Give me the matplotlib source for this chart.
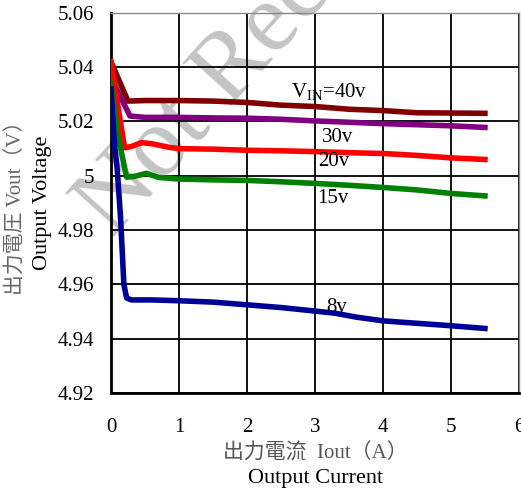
import matplotlib
matplotlib.use("Agg")
import matplotlib.pyplot as plt

plt.rcParams["font.family"] = ["Liberation Serif", "Noto Sans CJK TC", "DejaVu Sans"]
plt.rcParams["mathtext.fontset"] = "custom"
plt.rcParams["mathtext.rm"] = "Liberation Serif"

# output voltage vs output current for each input voltage
x_40v = [0, 0.25, 0.5, 1.0, 1.5, 2.0, 2.5, 3.0, 3.5, 4.0, 4.5, 5.0, 5.5]
y_40v = [5.042, 5.0275, 5.0277, 5.0277, 5.0275, 5.027, 5.026, 5.0255, 5.0245, 5.024, 5.0232, 5.0231, 5.023]

x_30v = [0, 0.28, 0.5, 1.0, 1.5, 2.0, 2.5, 3.0, 3.5, 4.0, 4.5, 5.0, 5.5]
y_30v = [5.036, 5.022, 5.0215, 5.0215, 5.0213, 5.0212, 5.0208, 5.0202, 5.0197, 5.0192, 5.0188, 5.0184, 5.0178]

x_20v = [0, 0.1, 0.2, 0.3, 0.45, 0.6, 0.85, 1.0, 1.5, 2.0, 2.5, 3.0, 3.5, 4.0, 4.5, 5.0, 5.5]
y_20v = [5.042, 5.026, 5.0103, 5.0108, 5.0122, 5.0118, 5.0105, 5.0100, 5.0098, 5.0094, 5.0092, 5.0089, 5.0085, 5.0082, 5.0075, 5.0066, 5.006]

x_15v = [0, 0.1, 0.23, 0.35, 0.52, 0.7, 1.0, 1.5, 2.0, 2.5, 3.0, 3.5, 4.0, 4.5, 5.0, 5.5]
y_15v = [5.034, 5.015, 4.9995, 4.9998, 5.0009, 4.9994, 4.9988, 4.9985, 4.9983, 4.9978, 4.9972, 4.9965, 4.9957, 4.9948, 4.9935, 4.9926]

x_8v = [0, 0.05, 0.09, 0.14, 0.17, 0.19, 0.23, 0.3, 0.6, 1.0, 1.5, 2.0, 2.5, 3.0, 3.3, 3.6, 4.0, 4.5, 5.0, 5.5]
y_8v = [5.032, 5.012, 5.003, 4.985, 4.970, 4.960, 4.955, 4.9543, 4.9543, 4.954, 4.9535, 4.9525, 4.9515, 4.9502, 4.9494, 4.948, 4.9466, 4.9457, 4.9448, 4.9438]

x_ticks = [0, 1, 2, 3, 4, 5, 6]
y_ticks = [4.92, 4.94, 4.96, 4.98, 5.00, 5.02, 5.04, 5.06]
y_tick_labels = ["4.92", "4.94", "4.96", "4.98", "5", "5.02", "5.04", "5.06"]

fig = plt.figure(figsize=(5.21, 4.92), dpi=100)
ax = fig.add_axes([0.213, 0.201, 0.783, 0.773])
ax.set_facecolor("none")

ax.plot(x_40v, y_40v, color="#800000", lw=4, zorder=3)
ax.plot(x_30v, y_30v, color="#800080", lw=4, zorder=3)
ax.plot(x_20v, y_20v, color="#ff0000", lw=4, zorder=3)
ax.plot(x_15v, y_15v, color="#008000", lw=4, zorder=3)
ax.plot(x_8v, y_8v, color="#000096", lw=4, zorder=3)

# curve labels
ax.text(2.65, 5.0307, "V$_{\\rm IN}$=40v", fontsize=15, ha="left", va="center", zorder=4)
ax.text(3.1, 5.0141, "30v", fontsize=15, ha="left", va="center", zorder=4)
ax.text(3.04, 5.0052, "20v", fontsize=15, ha="left", va="center", zorder=4)
ax.text(3.04, 4.9916, "15v", fontsize=15, ha="left", va="center", zorder=4)
ax.text(3.17, 4.9515, "8v", fontsize=15, ha="left", va="center", zorder=4)

ax.set_xlim(0, 6)
ax.set_ylim(4.92, 5.06)
ax.set_xticks(x_ticks)
ax.set_yticks(y_ticks)
ax.set_yticklabels(y_tick_labels)
ax.tick_params(length=0, labelsize=15)
ax.tick_params(axis="x", pad=18)
ax.tick_params(axis="y", pad=12)
ax.grid(True, color="black", lw=1.3)

for side in ["left", "bottom"]:
    ax.spines[side].set_linewidth(2)
    ax.spines[side].set_color("black")
for side in ["top", "right"]:
    ax.spines[side].set_linewidth(1)
    ax.spines[side].set_color("#888888")

# axis titles
fig.text(0.033, 0.588, "出力電圧 Vout（V）", rotation=90, fontsize=15,
         color="#666666", ha="center", va="center")
fig.text(0.081, 0.588, "Output Voltage", rotation=90, fontsize=16,
         ha="center", va="center")
fig.text(0.606, 0.079, "出力電流  Iout（A）", fontsize=15,
         color="#555555", ha="center", va="center")
fig.text(0.606, 0.028, "Output Current", fontsize=16,
         ha="center", va="center")

# watermark, behind grid and curves
fig.text(0.215, 0.515, "Not Recommended", fontsize=72, color="#c4c4c4",
         rotation=48, rotation_mode="anchor",
         ha="left", va="baseline", zorder=-1)

fig.savefig("out.png", dpi=100)
